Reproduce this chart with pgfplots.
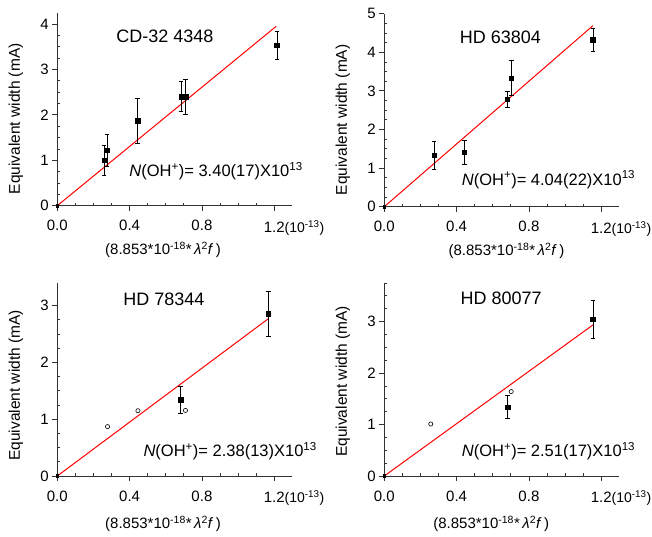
\documentclass[border=0pt]{standalone}
\usepackage{fontspec}
\setmainfont{Liberation Sans}
\usepackage{pgfplots}
\pgfplotsset{compat=1.18}
\definecolor{axgray}{RGB}{50,50,50}
\pgfplotsset{
  panel/.style={
    scale only axis, width=235pt, height=193pt,
    anchor=south west,
    axis lines=left,
    axis line style={-, line width=0.8pt, color=axgray},
    xmin=0, xmax=1.3,
    xtick={0,0.4,0.8,1.2},
    xticklabels={0.0,0.4,0.8,{1.2\rlap{\fontsize{14}{15}\selectfont(10\textsuperscript{-13})}}},
    minor x tick num=3,
    ymin=0, ytick distance=1, minor y tick num=3,
    tick align=outside,
    major tick length=5pt, minor tick length=3pt,
    tick style={color=axgray, line width=0.8pt},
    minor x tick style={yshift=3pt},
    minor y tick style={xshift=3pt},
    ticklabel style={font=\fontsize{15}{16}\selectfont},
    /pgf/number format/assume math mode=true,
    xticklabel style={yshift=-6pt},
    ylabel={Equivalent width (mA)},
    xlabel={(8.853*10\textsuperscript{-18}*\,\textit{λ}\textsuperscript{2}\textit{f}\,)},
    clip=false,
  },
  fitline/.style={red, line width=1pt, no marks},
  sq/.style={only marks, mark=square*, mark size=2.3pt, black,
     error bars/.cd, y dir=both, y explicit,
     error bar style={black, line width=0.6pt},
     error mark options={rotate=90, mark size=2.3pt, black, line width=0.6pt}},
  circ/.style={only marks, mark=o, mark size=2.1pt, black, mark options={fill=white, line width=0.6pt}},
  orig/.style={only marks, mark=square*, mark size=1.3pt, black},
}
\begin{document}
\begin{tikzpicture}
\useasboundingbox (0pt,0pt) rectangle (652pt,537pt);

% top-left
\begin{axis}[panel, at={(57.3pt,331.3pt)}, ymax=4.25,
  ylabel style={font=\fontsize{15.5}{16}\selectfont, at={(axis description cs:-0.176,0.45)}, anchor=center},
  xlabel style={font=\fontsize{15}{16}\selectfont, at={(axis description cs:0.45,-0.23)}, anchor=center}]
\addplot[fitline] coordinates {(0,0) (1.211,3.95)};
\addplot[orig] coordinates {(0,0)};
\addplot[sq] coordinates {
 (0.259,1.00) +- (0,0.33)
 (0.275,1.22) +- (0,0.35)
 (0.445,1.87) +- (0,0.50)
 (0.685,2.40) +- (0,0.33)
 (0.709,2.40) +- (0,0.38)
 (1.215,3.53) +- (0,0.30)
};
\node[font=\fontsize{18}{20}\selectfont, anchor=center] at (rel axis cs:0.458,0.876) {CD-32 4348};
\node[font=\fontsize{16.5}{18}\selectfont, anchor=base west] at (rel axis cs:0.292,0.150) {\textit{N}(OH\textsuperscript{+})= 3.40(17)X10\textsuperscript{13}};
\end{axis}

% top-right
\begin{axis}[panel, at={(384.3pt,330.3pt)}, ymax=5,
  ylabel style={font=\fontsize{15.5}{16}\selectfont, at={(axis description cs:-0.176,0.45)}, anchor=center},
  xlabel style={font=\fontsize{15}{16}\selectfont, at={(axis description cs:0.52,-0.23)}, anchor=center}]
\addplot[fitline] coordinates {(0,0) (1.154,4.69)};
\addplot[orig] coordinates {(0,0)};
\addplot[sq] coordinates {
 (0.275,1.33) +- (0,0.36)
 (0.443,1.41) +- (0,0.31)
 (0.680,2.79) +- (0,0.21)
 (0.702,3.33) +- (0,0.45)
 (1.154,4.33) +- (0,0.30)
};
\node[font=\fontsize{18}{20}\selectfont, anchor=center] at (rel axis cs:0.494,0.879) {HD 63804};
\node[font=\fontsize{16.5}{18}\selectfont, anchor=base west] at (rel axis cs:0.315,0.112) {\textit{N}(OH\textsuperscript{+})= 4.04(22)X10\textsuperscript{13}};
\end{axis}

% bottom-left
\begin{axis}[panel, at={(57.3pt,61pt)}, ymax=3.4,
  ylabel style={font=\fontsize{15.5}{16}\selectfont, at={(axis description cs:-0.176,0.47)}, anchor=center},
  xlabel style={font=\fontsize{15}{16}\selectfont, at={(axis description cs:0.45,-0.25)}, anchor=center}]
\addplot[fitline] coordinates {(0,0) (1.167,2.77)};
\addplot[orig] coordinates {(0,0)};
\addplot[circ] coordinates {(0.278,0.87) (0.446,1.15) (0.709,1.155)};
\addplot[sq] coordinates {
 (0.683,1.34) +- (0,0.235)
 (1.167,2.86) +- (0,0.40)
};
\node[font=\fontsize{18}{20}\selectfont, anchor=center] at (rel axis cs:0.454,0.915) {HD 78344};
\node[font=\fontsize{16.5}{18}\selectfont, anchor=base west] at (rel axis cs:0.352,0.10) {\textit{N}(OH\textsuperscript{+})= 2.38(13)X10\textsuperscript{13}};
\end{axis}

% bottom-right
\begin{axis}[panel, at={(384.3pt,61pt)}, ymax=3.75,
  ylabel style={font=\fontsize{15.5}{16}\selectfont, at={(axis description cs:-0.176,0.49)}, anchor=center},
  xlabel style={font=\fontsize{15}{16}\selectfont, at={(axis description cs:0.455,-0.25)}, anchor=center}]
\addplot[fitline] coordinates {(0,0) (1.154,2.935)};
\addplot[orig] coordinates {(0,0)};
\addplot[circ] coordinates {(0.257,1.01) (0.702,1.64)};
\addplot[sq] coordinates {
 (0.682,1.34) +- (0,0.22)
 (1.154,3.05) +- (0,0.37)
};
\node[font=\fontsize{18}{20}\selectfont, anchor=center] at (rel axis cs:0.497,0.92) {HD 80077};
\node[font=\fontsize{16.5}{18}\selectfont, anchor=base west] at (rel axis cs:0.315,0.10) {\textit{N}(OH\textsuperscript{+})= 2.51(17)X10\textsuperscript{13}};
\end{axis}
\end{tikzpicture}
\end{document}
